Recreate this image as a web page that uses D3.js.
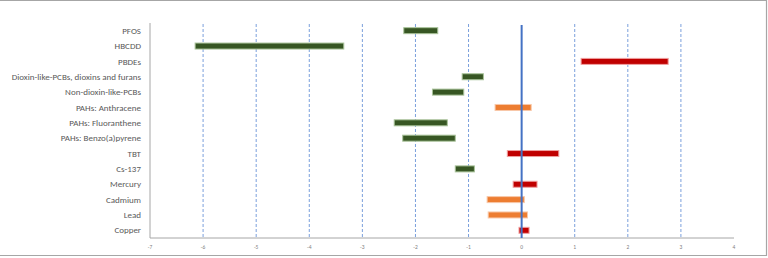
<!DOCTYPE html>
<html>
<head>
<meta charset="utf-8">
<script src="https://cdn.jsdelivr.net/npm/d3@7"></script>
<style>
  body { margin: 0; background: #fff; }
  svg { display: block; font-family: Calibri, Carlito, "Open Sans", "Liberation Sans", sans-serif; }
</style>
</head>
<body>
<div id="chart"></div>
<script>
// categories top to bottom
let categories = ['PFOS', 'HBCDD', 'PBDEs', 'Dioxin-like-PCBs, dioxins and furans', 'Non-dioxin-like-PCBs',
    'PAHs: Anthracene', 'PAHs: Fluoranthene', 'PAHs: Benzo(a)pyrene', 'TBT', 'Cs-137',
    'Mercury', 'Cadmium', 'Lead', 'Copper'];
let lows  = [-2.22, -6.15, 1.12, -1.12, -1.68, -0.50, -2.40, -2.24, -0.27, -1.25, -0.16, -0.65, -0.63, -0.05];
let highs = [-1.58, -3.35, 2.76, -0.72, -1.09, 0.18, -1.40, -1.25, 0.70, -0.89, 0.29, 0.05, 0.11, 0.14];
let groups = ['green', 'green', 'red', 'green', 'green', 'orange', 'green', 'green', 'red', 'green', 'red', 'orange', 'orange', 'red'];
let tickValues = [-7, -6, -5, -4, -3, -2, -1, 0, 1, 2, 3, 4];

let colors = { green: '#375623', red: '#C00000', orange: '#ED7D31' };
let glow = { green: '#a9c39a', red: '#f0a0a0', orange: '#f8c8a8' };

let W = 768, H = 258;
let mLeft = 150, mRight = 734, mTop = 23, mBottom = 238;

let svg = d3.select('#chart').append('svg').attr('width', W).attr('height', H);

// frame
svg.append('path').attr('d', 'M0,0.5 H766.5 V255.5 H0')
    .attr('fill', 'none').attr('stroke', '#a6a6a6').attr('stroke-width', 1.2);

let x = d3.scaleLinear().domain([-7, 4]).range([mLeft, mRight]);
let y = d3.scaleBand().domain(categories).range([mTop, mBottom]);

// dashed gridlines
svg.append('g').selectAll('line').data(tickValues.filter(d => d !== -7 && d !== 4 && d !== 0)).enter()
    .append('line')
    .attr('x1', d => x(d)).attr('x2', d => x(d))
    .attr('y1', mTop + 1).attr('y2', mBottom)
    .attr('stroke', '#7a9fdc').attr('stroke-width', 1)
    .attr('stroke-dasharray', '3,2');

// axes lines
svg.append('line').attr('x1', mLeft).attr('x2', mLeft).attr('y1', mTop).attr('y2', mBottom)
    .attr('stroke', '#a6a6a6').attr('stroke-width', 1);
svg.append('line').attr('x1', mLeft).attr('x2', mRight).attr('y1', mBottom).attr('y2', mBottom)
    .attr('stroke', '#a6a6a6').attr('stroke-width', 1);

// bars
let data = categories.map((c, i) => ({ cat: c, lo: lows[i], hi: highs[i], g: groups[i] }));
let bh = 6;
svg.append('g').selectAll('rect').data(data).enter().append('rect')
    .attr('x', d => x(d.lo))
    .attr('y', d => y(d.cat) + y.bandwidth() / 2 - bh / 2)
    .attr('width', d => x(d.hi) - x(d.lo))
    .attr('height', bh)
    .attr('fill', d => colors[d.g])
    .attr('stroke', d => glow[d.g]).attr('stroke-width', 1);

// zero line
svg.append('line').attr('x1', x(0)).attr('x2', x(0)).attr('y1', mTop + 2).attr('y2', mBottom)
    .attr('stroke', '#4472C4').attr('stroke-width', 2);

// category labels
svg.append('g').selectAll('text').data(categories).enter().append('text')
    .attr('x', mLeft - 9)
    .attr('y', d => y(d) + y.bandwidth() / 2)
    .attr('dy', '0.35em')
    .attr('text-anchor', 'end')
    .attr('font-size', 9)
    .attr('fill', '#595959')
    .text(d => d);

// tick labels
svg.append('g').selectAll('text').data(tickValues).enter().append('text')
    .attr('x', d => x(d))
    .attr('y', mBottom + 11)
    .attr('text-anchor', 'middle')
    .attr('font-size', 5.5)
    .attr('fill', '#7f7f7f')
    .text(d => d);
</script>
</body>
</html>
